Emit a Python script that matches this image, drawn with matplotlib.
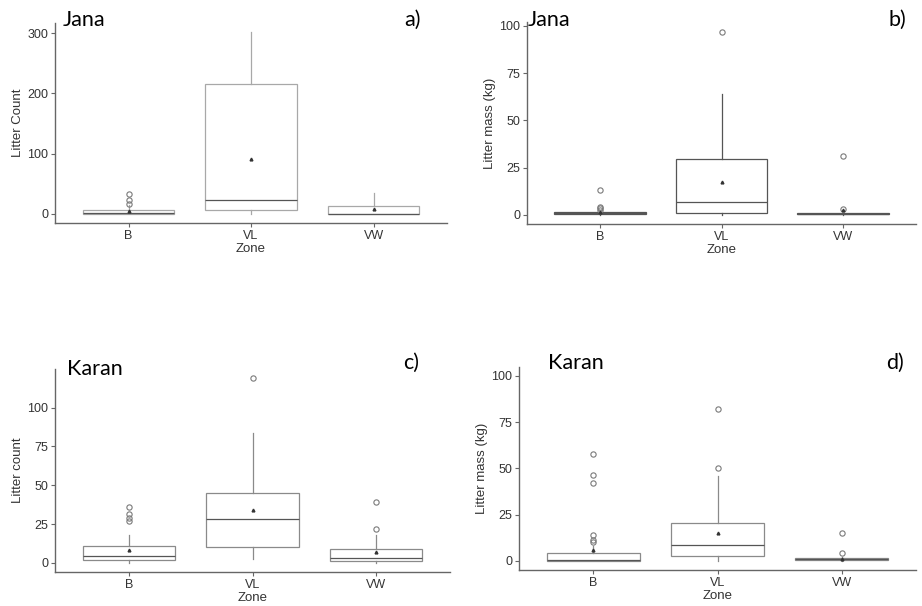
import matplotlib
matplotlib.use("Agg")
import matplotlib.pyplot as plt

zones = ["B", "VL", "VW"]

# Panel a: Jana, litter count
a_whislo = [0, 0, 0]
a_q1 = [0, 7, 0]
a_med = [2, 23, 0]
a_q3 = [7, 215, 13]
a_whishi = [15, 302, 35]
a_mean = [5, 92, 8]
a_fliers = [[17, 23, 33], [], []]

# Panel b: Jana, litter mass
b_whislo = [0, 0, 0]
b_q1 = [0.3, 0.9, 0.2]
b_med = [0.8, 6.7, 0.4]
b_q3 = [1.5, 29.8, 0.9]
b_whishi = [1.8, 63.8, 1.2]
b_mean = [1.5, 17.6, 2.5]
b_fliers = [[2.3, 3.5, 4.4, 13.2], [97], [3, 30.9]]

# Panel c: Karan, litter count
c_whislo = [0, 2.5, 0]
c_q1 = [2, 10, 1]
c_med = [4.5, 28, 3]
c_q3 = [11, 45, 9]
c_whishi = [18, 84, 18]
c_mean = [8.5, 34, 7]
c_fliers = [[27, 29, 31.5, 36], [119], [22, 39]]

# Panel d: Karan, litter mass
d_whislo = [0, 0, 0]
d_q1 = [0, 2.5, 0.3]
d_med = [0.3, 8.4, 0.8]
d_q3 = [4, 20.5, 1.5]
d_whishi = [8, 46, 2]
d_mean = [6, 15, 1.2]
d_fliers = [[10, 11, 13.8, 42, 46.5, 58], [50, 82], [4, 15]]

ylabels = ["Litter Count", "Litter mass (kg)", "Litter count", "Litter mass (kg)"]
sites = ["Jana", "Jana", "Karan", "Karan"]
letters = ["a)", "b)", "c)", "d)"]
yticks = [[0, 100, 200, 300], [0, 25, 50, 75, 100], [0, 25, 50, 75, 100], [0, 25, 50, 75, 100]]
ylims = [(-15.1, 317.1), (-4.85, 101.85), (-5.95, 124.95), (-5, 105)]

panels = [
    (a_whislo, a_q1, a_med, a_q3, a_whishi, a_mean, a_fliers),
    (b_whislo, b_q1, b_med, b_q3, b_whishi, b_mean, b_fliers),
    (c_whislo, c_q1, c_med, c_q3, c_whishi, c_mean, c_fliers),
    (d_whislo, d_q1, d_med, d_q3, d_whishi, d_mean, d_fliers),
]

W, H = 922, 606
# axes boxes in pixels: left, right, top, bottom
boxes_px = [(55, 447, 23, 223), (527, 916, 22.5, 224), (55, 450, 369, 572), (519, 916, 366.6, 570)]
site_pos = [(63, 20), (528, 20), (67, 369), (548, 363)]
letter_pos = [(421, 20), (906, 20), (419, 363), (904, 363)]

plt.rcParams['font.family'] = ['Liberation Sans', 'DejaVu Sans']
fig = plt.figure(figsize=(W / 100, H / 100), dpi=100)

box_col = ['#a8a8a8', '#555555', '#8a8a8a', '#8a8a8a']

for i, (wl, q1, md, q3, wh, mn, fl) in enumerate(panels):
    l, r, t, b = boxes_px[i]
    ax = fig.add_axes([l / W, 1 - b / H, (r - l) / W, (b - t) / H])
    stats = []
    for k, z in enumerate(zones):
        stats.append(dict(label=z, whislo=wl[k], q1=q1[k], med=md[k], q3=q3[k],
                          whishi=wh[k], mean=mn[k], fliers=fl[k]))
    col = box_col[i]
    ax.bxp(stats, positions=[1, 2, 3], widths=0.75, showcaps=False, showmeans=True,
           patch_artist=True,
           boxprops=dict(facecolor='white', edgecolor=col, linewidth=0.9),
           medianprops=dict(color='#555555', linewidth=0.9),
           whiskerprops=dict(color=col, linewidth=0.9),
           flierprops=dict(marker='o', markerfacecolor='none', markeredgecolor='#7a7a7a',
                           markersize=3.8, markeredgewidth=0.8),
           meanprops=dict(marker='^', markerfacecolor='#333333', markeredgecolor='#333333',
                          markersize=2))
    ax.set_xlim(0.4, 3.6)
    ax.set_ylim(*ylims[i])
    ax.set_yticks(yticks[i])
    ax.set_xticks([1, 2, 3])
    ax.set_xticklabels(zones)
    for s in ['top', 'right']:
        ax.spines[s].set_visible(False)
    for s in ['left', 'bottom']:
        ax.spines[s].set_color('#666666')
        ax.spines[s].set_linewidth(1.0)
    ax.tick_params(length=3, width=0.8, color='#666666', labelcolor='#333333', labelsize=9, pad=2)
    ax.set_xlabel("Zone", fontsize=9.5, color='#333333', labelpad=1)
    ax.set_ylabel(ylabels[i], fontsize=9.5, color='#333333', labelpad=2)
    sx, sy = site_pos[i]
    fig.text(sx / W, 1 - sy / H, sites[i], fontsize=15.5, family=['Lato', 'DejaVu Sans'],
             ha='left', va='center', color='black')
    lx, ly = letter_pos[i]
    fig.text(lx / W, 1 - ly / H, letters[i], fontsize=15.5, family=['Lato', 'DejaVu Sans'],
             ha='right', va='center', color='black')

fig.savefig("out.png", dpi=100, facecolor='white')
